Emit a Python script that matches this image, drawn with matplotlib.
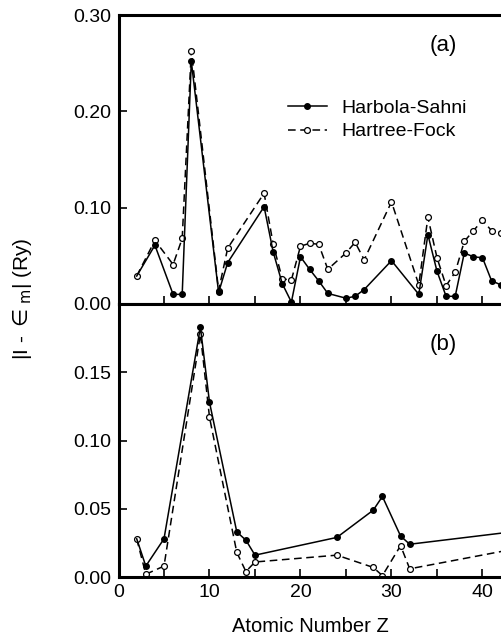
import numpy as np
import matplotlib
matplotlib.use("Agg")
import matplotlib.pyplot as plt
from matplotlib.ticker import MultipleLocator, FormatStrFormatter

plt.rcParams['font.family'] = ['Liberation Sans', 'DejaVu Sans']

# panel (a)
za = [2, 4, 6, 7, 8, 11, 12, 16, 17, 18, 19, 20, 21, 22, 23, 25, 26, 27, 30,
      33, 34, 35, 36, 37, 38, 39, 40, 41, 42]
hs_a = [0.029, 0.061, 0.010, 0.010, 0.252, 0.012, 0.043, 0.101, 0.054, 0.021,
        0.002, 0.049, 0.036, 0.024, 0.011, 0.006, 0.008, 0.015, 0.045,
        0.010, 0.072, 0.034, 0.008, 0.008, 0.053, 0.049, 0.048, 0.024, 0.020]
hf_a = [0.029, 0.066, 0.041, 0.068, 0.263, 0.014, 0.058, 0.115, 0.062, 0.026,
        0.025, 0.060, 0.063, 0.062, 0.036, 0.053, 0.064, 0.046, 0.106,
        0.020, 0.090, 0.048, 0.019, 0.033, 0.065, 0.076, 0.087, 0.076, 0.074]

# panel (b)
zb = [2, 3, 5, 9, 10, 13, 14, 15, 24, 28, 29, 31, 32, 45]
hs_b = [0.028, 0.008, 0.028, 0.183, 0.128, 0.033, 0.027, 0.016, 0.029, 0.049,
        0.059, 0.030, 0.024, 0.0345]
hf_b = [0.028, 0.002, 0.008, 0.178, 0.117, 0.018, 0.004, 0.011, 0.016, 0.007,
        0.001, 0.023, 0.006, 0.0224]

W, H = 501, 638
fig = plt.figure(figsize=(W / 100, H / 100), dpi=100)

left = 118.5 / W
width = (528 - 118.5) / W
ax1 = fig.add_axes([left, 1 - 304 / H, width, 289 / H])
ax2 = fig.add_axes([left, 1 - 577 / H, width, 273 / H])


def draw(ax, z, hs, hf):
    n = len(z)
    ax.plot(z, hs, '-', color='black', lw=1.1, marker='o', ms=4,
            markevery=list(range(1, n)), label='Harbola-Sahni', zorder=3)
    ax.plot(z, hf, '--', color='black', lw=1.1, dashes=(5, 3), marker='o',
            ms=4.2, mfc='white', mec='black', mew=0.9, label='Hartree-Fock',
            zorder=2)
    ax.set_xlim(0, 45)
    ax.xaxis.set_major_locator(MultipleLocator(10))
    ax.xaxis.set_minor_locator(MultipleLocator(5))
    ax.tick_params(which='both', direction='in', length=6, width=1.2,
                   labelsize=14, pad=5, top=False, right=False)
    for s in ['left', 'bottom', 'top']:
        ax.spines[s].set_linewidth(2.2)
    ax.spines['right'].set_visible(False)
    ax.yaxis.set_major_formatter(FormatStrFormatter('%.2f'))


draw(ax1, za, hs_a, hf_a)
ax1.set_ylim(0, 0.30)
ax1.yaxis.set_major_locator(MultipleLocator(0.10))
ax1.tick_params(labelbottom=False)
ax1.text(0.792, 0.893, '(a)', transform=ax1.transAxes, fontsize=16,
         ha='center', va='center')
ax1.legend(loc='upper left', bbox_to_anchor=(0.414, 0.708), frameon=False,
           fontsize=14, handlelength=2.0, handletextpad=0.75, labelspacing=0.3,
           borderpad=0, borderaxespad=0)

draw(ax2, zb, hs_b, hf_b)
ax2.set_ylim(0, 0.20)
ax2.set_yticks([0, 0.05, 0.10, 0.15])
ax2.text(0.792, 0.85, '(b)', transform=ax2.transAxes, fontsize=16,
         ha='center', va='center')

fig.text(310 / W, 1 - 627 / H, 'Atomic Number Z', fontsize=14.5,
         ha='center', va='center')
fig.text(23 / W, 1 - 299 / H, r'|I - $\in_{\rm m}$| (Ry)', fontsize=15,
         rotation=90, ha='center', va='center')

fig.savefig('out.png', dpi=100)
